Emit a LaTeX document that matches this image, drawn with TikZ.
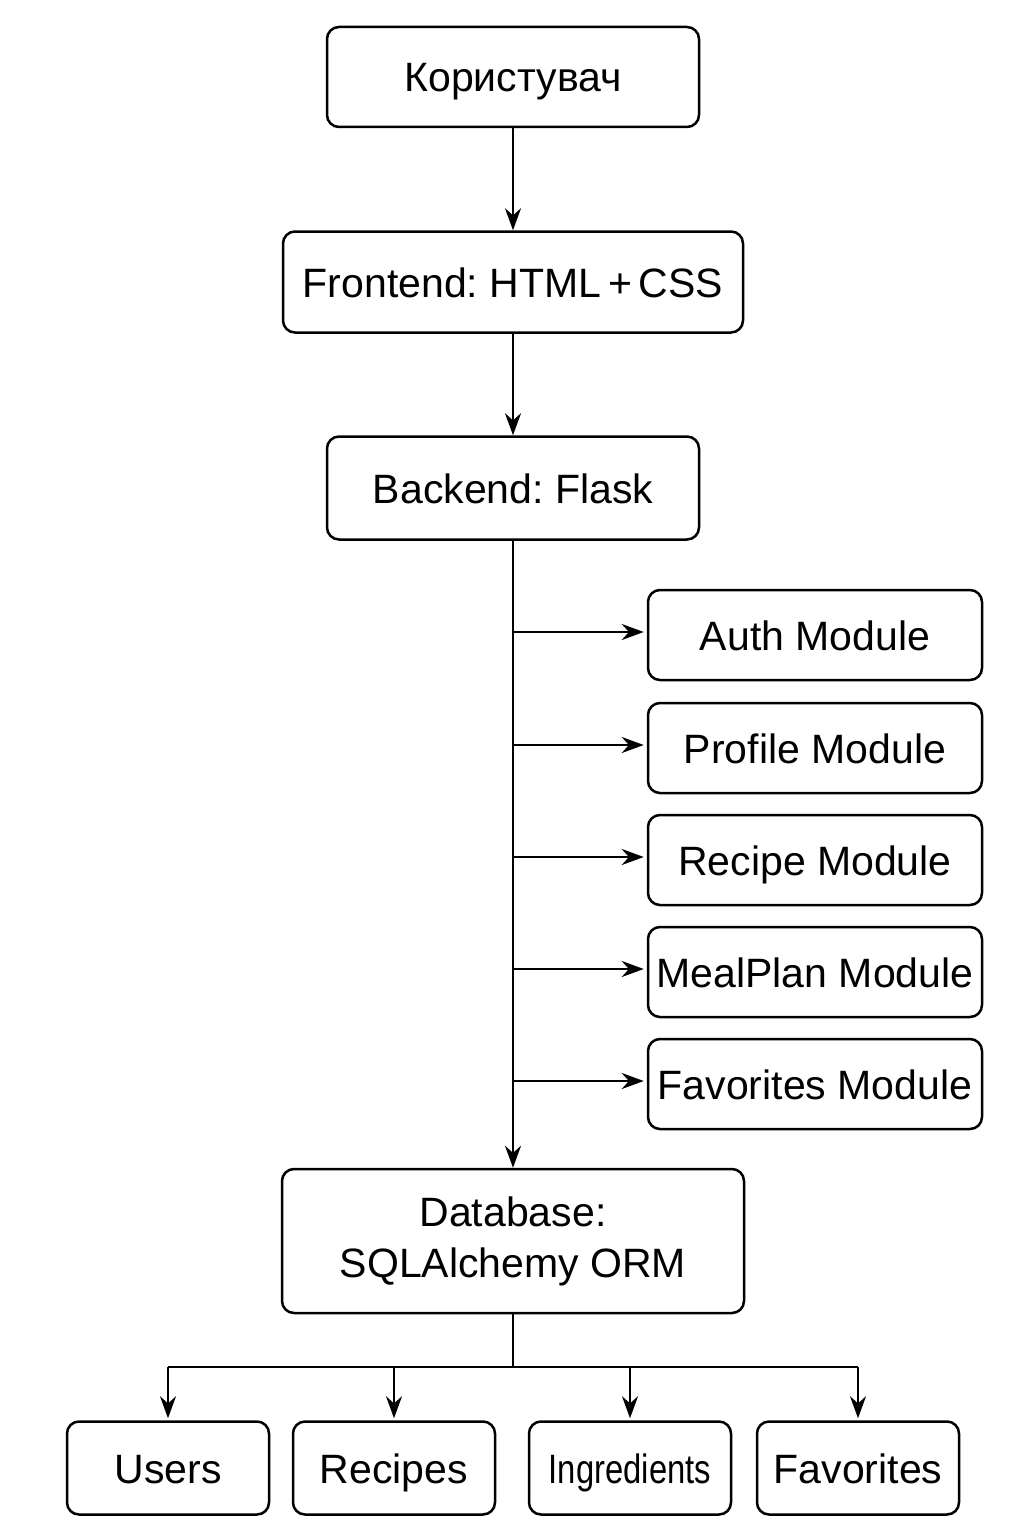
\documentclass[tikz,border=0pt]{standalone}
\usepackage{fontspec}
\setmainfont{Liberation Sans}
\usetikzlibrary{arrows.meta}
\frenchspacing
\tikzset{
  box/.style={draw, line width=1.25pt, rounded corners=6pt, align=center, inner sep=0pt,
    font=\fontsize{20.5}{25.5}\selectfont},
  onebox/.style={box, text height=15pt, text depth=0pt},
  modbox/.style={onebox, minimum width=167pt, minimum height=45pt},
  tblbox/.style={onebox, minimum width=101pt, minimum height=46.5pt},
  link/.style={line width=1.2pt, -{Stealth[length=11pt,width=8pt]}}
}
\begin{document}
\begin{tikzpicture}[x=0.5pt,y=-0.5pt]
  \useasboundingbox (0,0) rectangle (1024,1536);
  % main chain
  \node [onebox, minimum width=186pt, minimum height=50pt] (user) at (513,77) {Користувач};
  \node [onebox, minimum width=230pt, minimum height=50.5pt] (front) at (513,282) {Frontend: HTML\,+\,CSS};
  \node [onebox, minimum width=186pt, minimum height=51.5pt] (back) at (513,488) {Backend: Flask};
  \node [box, minimum width=231pt, minimum height=72pt] (db) at (513,1241) {Database:\\SQLAlchemy ORM};
  \draw [link] (user) -- (front);
  \draw [link] (front) -- (back);
  \draw [link] (back) -- (db);
  % modules
  \node [modbox] (auth) at (815,635) {Auth Module};
  \node [modbox] (profile) at (815,748) {Profile Module};
  \node [modbox] (recipe) at (815,860) {Recipe Module};
  \node [modbox] (meal) at (815,972) {MealPlan Module};
  \node [modbox] (favmod) at (815,1084) {Favorites Module};
  \foreach \m in {auth,profile,recipe,meal,favmod}
    \draw [link, shorten >=1.5pt] ([yshift=1.5pt]back.south |- \m.west) -- ([yshift=1.5pt]\m.west);
  % tables
  \node [tblbox] (users) at (168,1468) {Users};
  \node [tblbox] (recipes) at (394,1468) {Recipes};
  \node [tblbox] (ingr) at (630,1468) {\scalebox{0.8}[1]{Ingredients}};
  \node [tblbox] (favs) at (858,1468) {Favorites};
  \coordinate (bus) at (513,1367);
  \draw [line width=1.2pt] (db.south) -- (bus);
  \draw [line width=1.2pt] (users.north |- bus) -- (favs.north |- bus);
  \foreach \t in {users,recipes,ingr,favs}
    \draw [link, shorten >=1pt] (\t.north |- bus) -- (\t.north);
\end{tikzpicture}
\end{document}
